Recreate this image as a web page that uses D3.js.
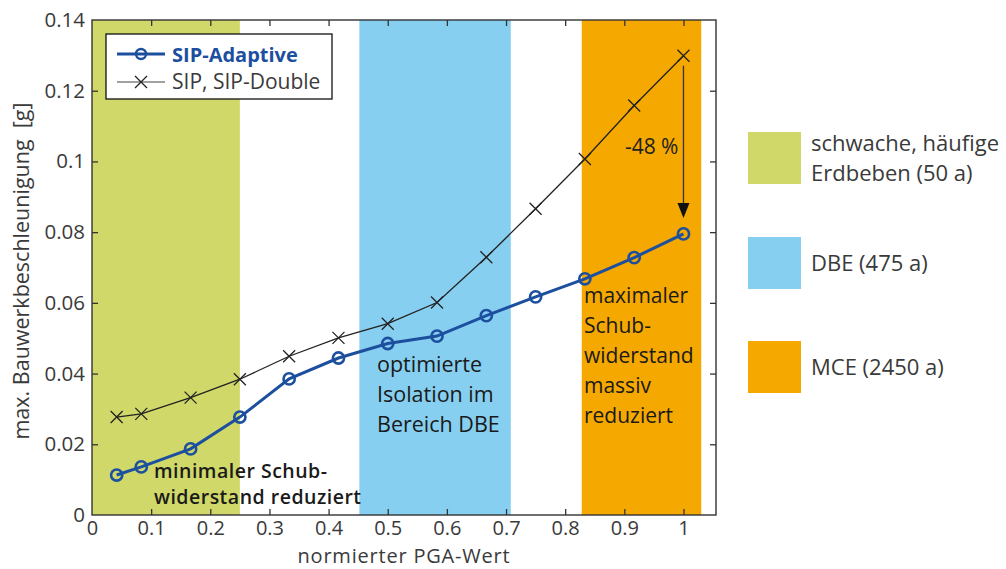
<!DOCTYPE html>
<html>
<head>
<meta charset="utf-8">
<script src="https://cdn.jsdelivr.net/npm/d3@7"></script>
<style>
  html, body { margin: 0; padding: 0; background: #fff; }
  svg { display: block; font-family: "Open Sans", "Lato", sans-serif; }
</style>
</head>
<body>
<svg id="chart" width="1006" height="569"></svg>
<script>
// ---- data ----
const pga = [0.0417, 0.0833, 0.1667, 0.25, 0.3333, 0.4167, 0.5, 0.5833, 0.6667, 0.75, 0.8333, 0.9167, 1.0];
const sipAdaptive = [0.0113, 0.0136, 0.0187, 0.0277, 0.0385, 0.0444, 0.0485, 0.0506, 0.0564, 0.0617, 0.0668, 0.0728, 0.0795];
const sipDouble = [0.0277, 0.0286, 0.0332, 0.0384, 0.0449, 0.0501, 0.0541, 0.0601, 0.0729, 0.0866, 0.1007, 0.1158, 0.1299];
const seriesNames = ["SIP-Adaptive", "SIP, SIP-Double"];
const bandStart = [0, 0.452, 0.828];
const bandEnd = [0.25, 0.708, 1.03];
const bandLabels = [["schwache, häufige", "Erdbeben (50 a)"], ["DBE (475 a)"], ["MCE (2450 a)"]];
const xTicks = [0, 0.1, 0.2, 0.3, 0.4, 0.5, 0.6, 0.7, 0.8, 0.9, 1];
const yTicks = [0, 0.02, 0.04, 0.06, 0.08, 0.1, 0.12, 0.14];
const xTitle = "normierter PGA-Wert";
const yTitle = "max. Bauwerkbeschleunigung  [g]";
const notes = [
  ["minimaler Schub-", "widerstand reduziert"],
  ["optimierte", "Isolation im", "Bereich DBE"],
  ["maximaler", "Schub-", "widerstand", "massiv", "reduziert"]
];
const reductionLabel = "-48 %";

// ---- styles ----
const bandColors = ["#cfd868", "#87cff0", "#f5a800"];
const blue = "#1d4f9f";
const black = "#222";
const axisColor = "#333";
const textColor = "#3a3a3a";

const svg = d3.select("#chart");
const m = {left: 92, top: 20, right: 716, bottom: 515};
const x = d3.scaleLinear().domain([0, 1.055]).range([m.left, m.right]);
const y = d3.scaleLinear().domain([0, 0.14]).range([m.bottom, m.top]);

// bands
svg.append("g").selectAll("rect").data(bandStart).join("rect")
  .attr("x", (d) => x(d))
  .attr("width", (d, i) => x(bandEnd[i]) - x(d))
  .attr("y", y(0.14)).attr("height", y(0) - y(0.14))
  .attr("fill", (d, i) => bandColors[i]);

// axes with inward ticks
const tl = 6;
const fmt = d3.format("~g");
const gx = svg.append("g").attr("transform", `translate(0,${m.bottom})`)
  .call(d3.axisBottom(x).tickValues(xTicks).tickSize(-tl).tickPadding(6).tickFormat(fmt));
const gxt = svg.append("g").attr("transform", `translate(0,${m.top})`)
  .call(d3.axisTop(x).tickValues(xTicks.slice(1)).tickSize(-tl).tickFormat(""));
const gy = svg.append("g").attr("transform", `translate(${m.left},0)`)
  .call(d3.axisLeft(y).tickValues(yTicks).tickSize(-tl).tickPadding(7).tickFormat(fmt));
const gyr = svg.append("g").attr("transform", `translate(${m.right},0)`)
  .call(d3.axisRight(y).tickValues(yTicks.slice(1, -1)).tickSize(-tl).tickFormat(""));
[gx, gxt, gy, gyr].forEach(g => {
  g.select(".domain").remove();
  g.selectAll(".tick line").attr("stroke", axisColor).attr("stroke-width", 1.3);
  g.selectAll("text").attr("fill", textColor).style("font-size", "20.5px")
    .style("font-family", '"Open Sans", sans-serif');
});
gx.selectAll("text").style("font-size", "20px");
gx.selectAll(".tick").filter(d => d === 0).select("line").remove();
gy.selectAll(".tick").filter(d => d === 0 || d === 0.14).select("line").remove();
svg.append("rect")
  .attr("x", m.left).attr("y", m.top)
  .attr("width", m.right - m.left).attr("height", m.bottom - m.top)
  .attr("fill", "none").attr("stroke", axisColor).attr("stroke-width", 1.4);

// titles
svg.append("text").attr("x", (m.left + m.right) / 2).attr("y", 563)
  .attr("text-anchor", "middle").attr("fill", textColor).style("font-size", "20px")
  .style("letter-spacing", "0.8px").text(xTitle);
svg.append("text").attr("transform", `translate(29,271) rotate(-90)`)
  .attr("text-anchor", "middle").attr("fill", textColor).style("font-size", "21.5px")
  .style("white-space", "pre").text(yTitle);

// lines
const line = d3.line().x((d, i) => x(pga[i])).y(d => y(d));
svg.append("path").datum(sipDouble).attr("d", line)
  .attr("fill", "none").attr("stroke", black).attr("stroke-width", 1.3);
svg.append("g").selectAll("path").data(sipDouble).join("path")
  .attr("d", (d, i) => {
    const cx = x(pga[i]), cy = y(d), s = 6;
    return `M${cx - s},${cy - s}L${cx + s},${cy + s}M${cx - s},${cy + s}L${cx + s},${cy - s}`;
  })
  .attr("stroke", black).attr("stroke-width", 1.3);

svg.append("path").datum(sipAdaptive).attr("d", line)
  .attr("fill", "none").attr("stroke", blue).attr("stroke-width", 3);
svg.append("g").selectAll("circle").data(sipAdaptive).join("circle")
  .attr("cx", (d, i) => x(pga[i])).attr("cy", d => y(d)).attr("r", 5.6)
  .attr("fill", "none").attr("stroke", blue).attr("stroke-width", 2.6);

// reduction arrow
const ax = x(pga[pga.length - 1]);
const yTop = y(sipDouble[sipDouble.length - 1]) + 10;
const yTip = y(sipAdaptive[sipAdaptive.length - 1]) - 16;
svg.append("line").attr("x1", ax).attr("x2", ax).attr("y1", yTop).attr("y2", yTip - 12)
  .attr("stroke", axisColor).attr("stroke-width", 1.3);
svg.append("path").attr("d", `M${ax - 6},${yTip - 15}L${ax + 6},${yTip - 15}L${ax},${yTip}Z`).attr("fill", "#111");
svg.append("text").attr("x", ax - 5).attr("y", 154).attr("text-anchor", "end")
  .attr("fill", "#222").style("font-size", "21px").text(reductionLabel);

// notes
const notePos = [
  {x: 154, y: 478, dy: 26, w: 600, fs: 19.5, ls: 0.5},
  {x: 377, y: 372, dy: 30, w: 400, fs: 21.5, ls: 0},
  {x: 584, y: 303, dy: 30, w: 500, fs: 21, ls: 0}
];
notes.forEach((n, k) => {
  const t = svg.append("text").attr("fill", "#1a1a1a").style("font-size", notePos[k].fs + "px")
    .style("font-weight", notePos[k].w).style("letter-spacing", notePos[k].ls + "px");
  n.forEach((l, i) => t.append("tspan").attr("x", notePos[k].x)
    .attr("y", notePos[k].y + i * notePos[k].dy).text(l));
});

// legend (series)
const lg = svg.append("g");
lg.append("rect").attr("x", 106).attr("y", 34).attr("width", 226).attr("height", 65)
  .attr("fill", "#fff").attr("stroke", "#111").attr("stroke-width", 1.3);
lg.append("line").attr("x1", 117).attr("x2", 165).attr("y1", 54).attr("y2", 54)
  .attr("stroke", blue).attr("stroke-width", 3);
lg.append("circle").attr("cx", 141).attr("cy", 54).attr("r", 5)
  .attr("fill", "none").attr("stroke", blue).attr("stroke-width", 2.4);
lg.append("text").attr("x", 172).attr("y", 62).attr("fill", blue)
  .style("font-size", "20px").style("font-weight", 700).text(seriesNames[0]);
lg.append("line").attr("x1", 117).attr("x2", 165).attr("y1", 82).attr("y2", 82)
  .attr("stroke", "#444").attr("stroke-width", 1.2);
lg.append("path").attr("d", "M135,76L147,88M135,88L147,76").attr("stroke", black).attr("stroke-width", 1.3);
lg.append("text").attr("x", 172).attr("y", 89).attr("fill", textColor)
  .style("font-size", "21px").text(seriesNames[1]);

// legend (bands)
const bandY = [132, 237, 341];
const bl = svg.append("g");
bandStart.forEach((d, i) => {
  bl.append("rect").attr("x", 748).attr("y", bandY[i]).attr("width", 53).attr("height", 52)
    .attr("fill", bandColors[i]);
  const lines = bandLabels[i];
  const t = bl.append("text").attr("fill", textColor).style("font-size", "22px");
  const cy = bandY[i] + 26;
  lines.forEach((l, j) => t.append("tspan").attr("x", 811)
    .attr("y", cy + 8 + (j - (lines.length - 1) / 2) * 30).text(l));
});
</script>
</body>
</html>
